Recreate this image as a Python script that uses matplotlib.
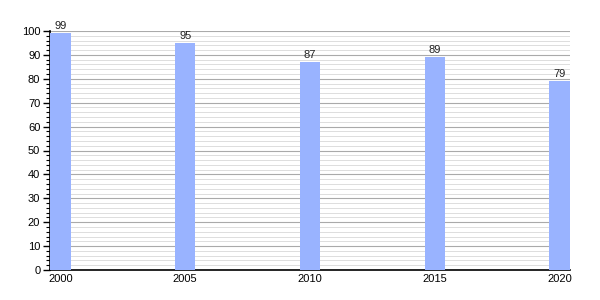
import matplotlib.pyplot as plt
import numpy as np
from matplotlib.ticker import MultipleLocator

plt.rcParams['font.family'] = ['Liberation Sans', 'DejaVu Sans']

# Data
years = ["2000", "2005", "2010", "2015", "2020"]
values = [99, 95, 87, 89, 79]

fig = plt.figure(figsize=(6, 3), dpi=100)
ax = fig.add_axes([50 / 600, 30 / 300, 520 / 600, 239 / 300])

x = np.arange(len(years))
bars = ax.bar(x, values, width=0.165, color="#99b3ff", zorder=3)

for xi, v in zip(x, values):
    ax.text(xi, v + 1, str(v), ha="center", va="bottom", fontsize=8, color="#222222")

ax.set_xlim(-0.0825, len(years) - 1 + 0.0825)
ax.set_ylim(0, 100)
ax.set_xticks(x)
ax.set_xticklabels(years)
ax.yaxis.set_major_locator(MultipleLocator(10))
ax.yaxis.set_minor_locator(MultipleLocator(2))

# Rutenett
ax.grid(True, which="major", axis="y", color="#aaaaaa", linewidth=0.8, zorder=0)
ax.grid(True, which="minor", axis="y", color="#d8d8d8", linewidth=0.6, zorder=0)

ax.spines["top"].set_visible(False)
ax.spines["right"].set_visible(False)
ax.spines["left"].set_linewidth(1.2)
ax.spines["bottom"].set_linewidth(1.2)

ax.tick_params(axis="y", which="major", length=5, width=1, labelsize=8, pad=2)
ax.tick_params(axis="y", which="minor", length=3, width=0.8)
ax.tick_params(axis="x", length=0, labelsize=8, pad=3)

fig.savefig("out.png", dpi=100)
